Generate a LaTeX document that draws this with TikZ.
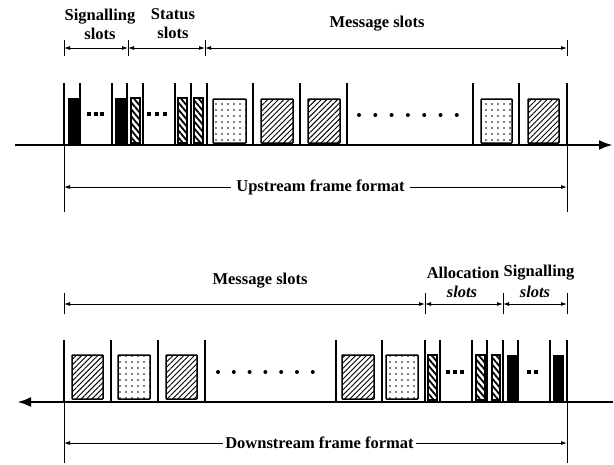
\documentclass[tikz,border=0pt]{standalone}
\usepackage{fontspec}
\setmainfont{Liberation Serif}
\usetikzlibrary{arrows.meta,patterns.meta}

\begin{document}
\begin{tikzpicture}[x=1pt,y=-1pt,
font=\bfseries\fontsize{16.5}{19}\selectfont,
wall/.style={line width=2.4pt},
thin/.style={line width=0.9pt},
axis/.style={line width=2.8pt,-{Latex[length=14pt,width=10pt]}},
dim/.style={line width=0.9pt,{Latex[length=6pt,width=4pt]}-{Latex[length=6pt,width=4pt]}},
sigbox/.style={fill=black,draw=black,line width=0.8pt},
statbox/.style={draw=black,line width=1.3pt,pattern={Lines[angle=-50,distance=4.5pt,line width=1.8pt]}},
hatchbox/.style={draw=black,line width=1.5pt,rounded corners=0.8pt,pattern={Lines[angle=45,distance=3.8pt,line width=0.9pt]}},
dotbox/.style={draw=black,line width=1.5pt,rounded corners=0.8pt,pattern={Dots[radius=0.8pt,distance=6pt]}},
lbl/.style={align=center,inner sep=1pt},
gap/.style={fill=white,inner sep=5pt}
]
\useasboundingbox (0,0) rectangle (614,464);

% ---------- upstream frame ----------
\coordinate (upL) at (15,145);
\coordinate (upR) at (613,145);
\draw[axis] (upL) -- (upR);
\foreach \x in {64,80,112,127,143,175,191,207,253,300,347,473,519,567}
  \draw[wall] (\x,83) -- (\x,145);
\draw[thin] (64,145) -- (64,212);
\draw[thin] (567,145) -- (567,212);

% signalling and status slots
\draw[sigbox] (68,98) rectangle (78,143);
\draw[sigbox] (115,98) rectangle (125,143);
\foreach \x in {89,95.5,102} \fill (\x-2,112) rectangle (\x+2,116);
\draw[statbox] (131,98) rectangle (140,143);
\draw[statbox] (178,98) rectangle (187,143);
\draw[statbox] (194,98) rectangle (203,143);
\foreach \x in {149,157,165} \fill (\x-2,112) rectangle (\x+2,116);

% message slots
\draw[dotbox] (213,99) rectangle (246,143);
\draw[hatchbox] (261,99) rectangle (293,143);
\draw[hatchbox] (308,99) rectangle (340,143);
\foreach \i in {0,...,6} \fill (359+\i*16.3,115) circle (2pt);
\draw[dotbox] (481,99) rectangle (512,143);
\draw[hatchbox] (528,99) rectangle (559,143);

% upstream dimensions
\foreach \x in {64,128,205,567} \draw[thin] (\x,40) -- (\x,56);
\coordinate (uA) at (64,48);
\coordinate (uB) at (128,48);
\coordinate (uC) at (205,48);
\coordinate (uD) at (567,48);
\draw[dim] (uA) -- (uB);
\draw[dim] (uB) -- (uC);
\draw[dim] (uC) -- (uD);
\node[lbl] (usig) at (100,24) {Signalling\\slots};
\node[lbl] (ustat) at (173,24) {Status\\slots};
\node[lbl] (umsg) at (377,24) {Message slots};
\coordinate (uF1) at (64,187);
\coordinate (uF2) at (567,187);
\draw[dim] (uF1) -- (uF2) node[gap,midway,xshift=5pt] (ufr) {Upstream frame format};

% ---------- downstream frame ----------
\coordinate (dnR) at (613,402);
\coordinate (dnL) at (17,402);
\draw[axis] (dnR) -- (dnL);
\foreach \x in {64,111,158,205,336,382,425,440,472,487,503,518,550,567}
  \draw[wall] (\x,340) -- (\x,402);
\draw[thin] (64,402) -- (64,463);
\draw[thin] (567,402) -- (567,463);

% message slots
\draw[hatchbox] (72,355) rectangle (103,399);
\draw[dotbox] (118,355) rectangle (150,399);
\draw[hatchbox] (166,355) rectangle (197,399);
\foreach \i in {0,...,6} \fill (218+\i*15.8,372) circle (2pt);
\draw[hatchbox] (342,355) rectangle (374,399);
\draw[dotbox] (386,355) rectangle (418,399);

% allocation and signalling slots
\draw[statbox] (428,355) rectangle (437,400);
\foreach \x in {448,455,462} \fill (\x-2,370) rectangle (\x+2,374);
\draw[statbox] (476,355) rectangle (485,400);
\draw[statbox] (492,355) rectangle (500,400);
\draw[sigbox] (507,355) rectangle (516,400);
\foreach \x in {529,536} \fill (\x-2,370) rectangle (\x+2,374);
\draw[sigbox] (553,355) rectangle (563,400);

% downstream dimensions
\foreach \x in {64,425,503,567} \draw[thin] (\x,293) -- (\x,314);
\coordinate (dA) at (64,304);
\coordinate (dB) at (425,304);
\coordinate (dC) at (503,304);
\coordinate (dD) at (567,304);
\draw[dim] (dA) -- (dB);
\draw[dim] (dB) -- (dC);
\draw[dim] (dC) -- (dD);
\node[lbl] (dmsg) at (260,281) {Message slots};
\node[lbl] (dalloc) at (463,273) {Allocation};
\node[lbl] (dsig) at (539,273) {Signalling};
\node[lbl] (dalls) at (462,292) {\itshape slots};
\node[lbl] (dsigs) at (535,292) {\itshape slots};
\coordinate (dF1) at (64,443);
\coordinate (dF2) at (567,443);
\draw[dim] (dF1) -- (dF2) node[gap,midway,xshift=4pt,inner sep=2pt] (dfr) {Downstream frame format};
\end{tikzpicture}
\end{document}
